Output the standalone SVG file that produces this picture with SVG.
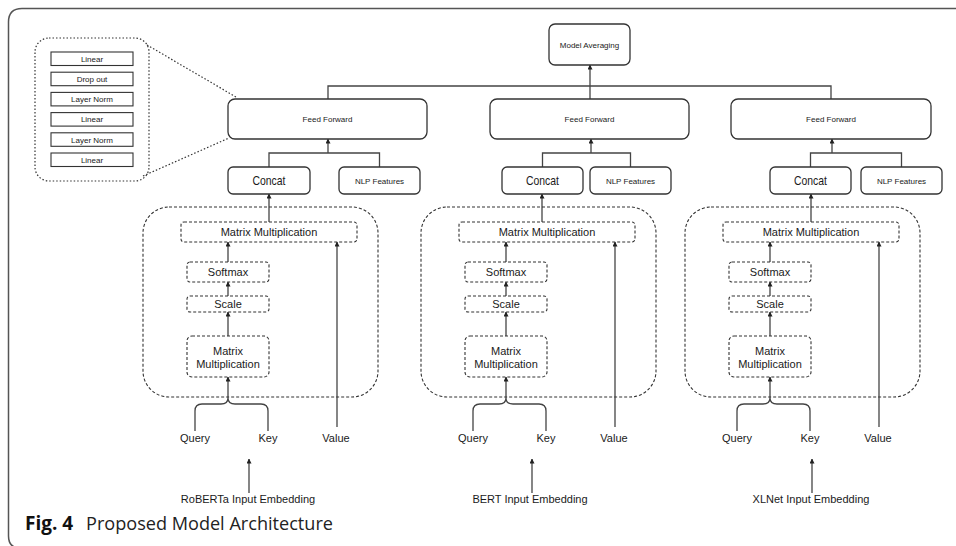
<svg xmlns="http://www.w3.org/2000/svg" width="956" height="546" viewBox="0 0 956 546">
<defs>
<marker id="ah" viewBox="0 0 10 10" refX="9" refY="5" markerWidth="5" markerHeight="5" orient="auto" markerUnits="userSpaceOnUse">
<path d="M0,0 L10,5 L0,10 Z" fill="#222"/>
</marker>
<style>
text{font-family:"Liberation Sans",Arial,sans-serif;fill:#1a1a1a;text-anchor:middle}
.solid{fill:#fff;stroke:#333;stroke-width:1.3}
.dash{fill:none;stroke:#333;stroke-width:1.1;stroke-dasharray:3 2}
.dot{fill:none;stroke:#333;stroke-width:1.2;stroke-dasharray:1.5 2}
.sq{fill:#fff;stroke:#333;stroke-width:1.1}
.c{fill:none;stroke:#444;stroke-width:1.3}
.ca{fill:none;stroke:#444;stroke-width:1.3;marker-end:url(#ah)}
.s8{font-size:8px}
.s11{font-size:11px}
.frame{fill:none;stroke:#555;stroke-width:1.5}
</style>
</defs>
<rect width="956" height="546" fill="#fff"/>
<path class="frame" d="M956 8.5 H22 Q8.5 8.5 8.5 22 V536 Q8.5 548 20 548"/>

<g id="ff-detail">
<rect class="dot" x="35" y="38" width="114" height="143" rx="14"/>
<rect class="sq" x="51" y="52" width="82" height="13.5"/><text class="s8" x="92" y="61.8">Linear</text>
<rect class="sq" x="51" y="72.2" width="82" height="13.5"/><text class="s8" x="92" y="82">Drop out</text>
<rect class="sq" x="51" y="92.4" width="82" height="13.5"/><text class="s8" x="92" y="102.2">Layer Norm</text>
<rect class="sq" x="51" y="112.6" width="82" height="13.5"/><text class="s8" x="92" y="122.4">Linear</text>
<rect class="sq" x="51" y="132.8" width="82" height="13.5"/><text class="s8" x="92" y="142.6">Layer Norm</text>
<rect class="sq" x="51" y="153" width="82" height="13.5"/><text class="s8" x="92" y="162.8">Linear</text>
</g>

<g id="connectors">
<line class="dot" x1="147" y1="45" x2="236" y2="97"/>
<line class="dot" x1="143" y1="176" x2="229" y2="138"/>
<!-- top merge -->
<path class="c" d="M328 99 V86 H831 V99"/>
<line class="ca" x1="590" y1="99" x2="590" y2="65"/>
<!-- left column -->
<line class="ca" x1="249" y1="493" x2="249" y2="459"/>
<path class="c" d="M195 431 V411 Q195 404 202 404 H221 Q228 404 228 398 Q228 404 235 404 H261 Q268 404 268 411 V431"/>
<line class="ca" x1="228" y1="398" x2="228" y2="377"/>
<line class="ca" x1="337" y1="427" x2="337" y2="242"/>
<line class="ca" x1="228" y1="336" x2="228" y2="312"/>
<line class="ca" x1="228" y1="296" x2="228" y2="282"/>
<line class="ca" x1="228" y1="262" x2="228" y2="242"/>
<line class="ca" x1="269" y1="222" x2="269" y2="194"/>
<path class="c" d="M269 167 V153 H379.5 V167"/>
<line class="ca" x1="328" y1="153" x2="328" y2="139"/>
<!-- middle column -->
<line class="ca" x1="532" y1="493" x2="532" y2="459"/>
<path class="c" d="M473 431 V411 Q473 404 480 404 H499 Q506 404 506 398 Q506 404 513 404 H539 Q546 404 546 411 V431"/>
<line class="ca" x1="506" y1="398" x2="506" y2="377"/>
<line class="ca" x1="615" y1="427" x2="615" y2="242"/>
<line class="ca" x1="506" y1="336" x2="506" y2="312"/>
<line class="ca" x1="506" y1="296" x2="506" y2="282"/>
<line class="ca" x1="506" y1="262" x2="506" y2="242"/>
<line class="ca" x1="542" y1="222" x2="542" y2="194"/>
<path class="c" d="M542.5 167 V153 H630.5 V167"/>
<line class="ca" x1="591" y1="153" x2="591" y2="139"/>
<!-- right column -->
<line class="ca" x1="812" y1="493" x2="812" y2="459"/>
<path class="c" d="M737 431 V411 Q737 404 744 404 H763 Q770 404 770 398 Q770 404 777 404 H803 Q810 404 810 411 V431"/>
<line class="ca" x1="770" y1="398" x2="770" y2="377"/>
<line class="ca" x1="879" y1="427" x2="879" y2="242"/>
<line class="ca" x1="770" y1="336" x2="770" y2="312"/>
<line class="ca" x1="770" y1="296" x2="770" y2="282"/>
<line class="ca" x1="770" y1="262" x2="770" y2="242"/>
<line class="ca" x1="811" y1="222" x2="811" y2="194"/>
<path class="c" d="M810.5 167 V153 H901.5 V167"/>
<line class="ca" x1="832" y1="153" x2="832" y2="139"/>
</g>

<g id="model-averaging">
<rect class="solid" x="549" y="24" width="81" height="41" rx="6"/>
<text class="s8" x="589.5" y="47.5">Model Averaging</text>
</g>

<!-- Left column nodes -->
<g id="ff-left"><rect class="solid" x="228" y="99" width="199" height="40" rx="7"/><text class="s8" x="327.5" y="122">Feed Forward</text></g>
<g id="concat-left"><rect class="solid" x="228" y="167" width="82" height="27" rx="5"/><text x="269" y="185" font-size="13" textLength="33" lengthAdjust="spacingAndGlyphs">Concat</text></g>
<g id="nlp-left"><rect class="solid" x="339" y="167" width="81" height="27" rx="5"/><text class="s8" x="379.5" y="183.5">NLP Features</text></g>
<g id="attn-left">
<rect class="dash" x="143" y="207" width="235" height="190" rx="26"/>
<rect class="dash" x="181" y="222" width="176" height="20" rx="3"/><text class="s11" x="269" y="236">Matrix Multiplication</text>
<rect class="dash" x="187" y="262" width="82" height="20" rx="3"/><text class="s11" x="228" y="276">Softmax</text>
<rect class="dash" x="187" y="296" width="82" height="16" rx="3"/><text class="s11" x="228" y="308">Scale</text>
<rect class="dash" x="187" y="336" width="82" height="41" rx="5"/><text class="s11" x="228" y="355">Matrix</text><text class="s11" x="228" y="368">Multiplication</text>
</g>
<g id="inputs-left">
<text class="s11" x="195" y="442">Query</text><text class="s11" x="268" y="442">Key</text><text class="s11" x="336" y="442">Value</text>
<text class="s11" x="248" y="503">RoBERTa Input Embedding</text>
</g>

<!-- Middle column nodes -->
<g id="ff-mid"><rect class="solid" x="490" y="99" width="199" height="40" rx="7"/><text class="s8" x="589.5" y="122">Feed Forward</text></g>
<g id="concat-mid"><rect class="solid" x="502" y="167" width="81" height="27" rx="5"/><text x="542.5" y="185" font-size="13" textLength="33" lengthAdjust="spacingAndGlyphs">Concat</text></g>
<g id="nlp-mid"><rect class="solid" x="590" y="167" width="81" height="27" rx="5"/><text class="s8" x="630.5" y="183.5">NLP Features</text></g>
<g id="attn-mid">
<rect class="dash" x="421" y="207" width="235" height="190" rx="26"/>
<rect class="dash" x="459" y="222" width="176" height="20" rx="3"/><text class="s11" x="547" y="236">Matrix Multiplication</text>
<rect class="dash" x="465" y="262" width="82" height="20" rx="3"/><text class="s11" x="506" y="276">Softmax</text>
<rect class="dash" x="465" y="296" width="82" height="16" rx="3"/><text class="s11" x="506" y="308">Scale</text>
<rect class="dash" x="465" y="336" width="82" height="41" rx="5"/><text class="s11" x="506" y="355">Matrix</text><text class="s11" x="506" y="368">Multiplication</text>
</g>
<g id="inputs-mid">
<text class="s11" x="473" y="442">Query</text><text class="s11" x="546" y="442">Key</text><text class="s11" x="614" y="442">Value</text>
<text class="s11" x="530" y="503">BERT Input Embedding</text>
</g>

<!-- Right column nodes -->
<g id="ff-right"><rect class="solid" x="731" y="99" width="200" height="40" rx="7"/><text class="s8" x="831" y="122">Feed Forward</text></g>
<g id="concat-right"><rect class="solid" x="770" y="167" width="81" height="27" rx="5"/><text x="810.5" y="185" font-size="13" textLength="33" lengthAdjust="spacingAndGlyphs">Concat</text></g>
<g id="nlp-right"><rect class="solid" x="861" y="167" width="81" height="27" rx="5"/><text class="s8" x="901.5" y="183.5">NLP Features</text></g>
<g id="attn-right">
<rect class="dash" x="685" y="207" width="235" height="190" rx="26"/>
<rect class="dash" x="723" y="222" width="176" height="20" rx="3"/><text class="s11" x="811" y="236">Matrix Multiplication</text>
<rect class="dash" x="729" y="262" width="82" height="20" rx="3"/><text class="s11" x="770" y="276">Softmax</text>
<rect class="dash" x="729" y="296" width="82" height="16" rx="3"/><text class="s11" x="770" y="308">Scale</text>
<rect class="dash" x="729" y="336" width="82" height="41" rx="5"/><text class="s11" x="770" y="355">Matrix</text><text class="s11" x="770" y="368">Multiplication</text>
</g>
<g id="inputs-right">
<text class="s11" x="737" y="442">Query</text><text class="s11" x="810" y="442">Key</text><text class="s11" x="878" y="442">Value</text>
<text class="s11" x="811" y="503">XLNet Input Embedding</text>
</g>

<g id="caption">
<text x="25" y="530" style="font-family:'Open Sans','Noto Sans',sans-serif;font-size:19px;font-weight:bold;text-anchor:start;fill:#111">Fig. 4</text>
<text x="86" y="530" textLength="247" lengthAdjust="spacingAndGlyphs" style="font-family:'Open Sans','Noto Sans',sans-serif;font-size:19px;text-anchor:start;fill:#222">Proposed Model Architecture</text>
</g>
</svg>
